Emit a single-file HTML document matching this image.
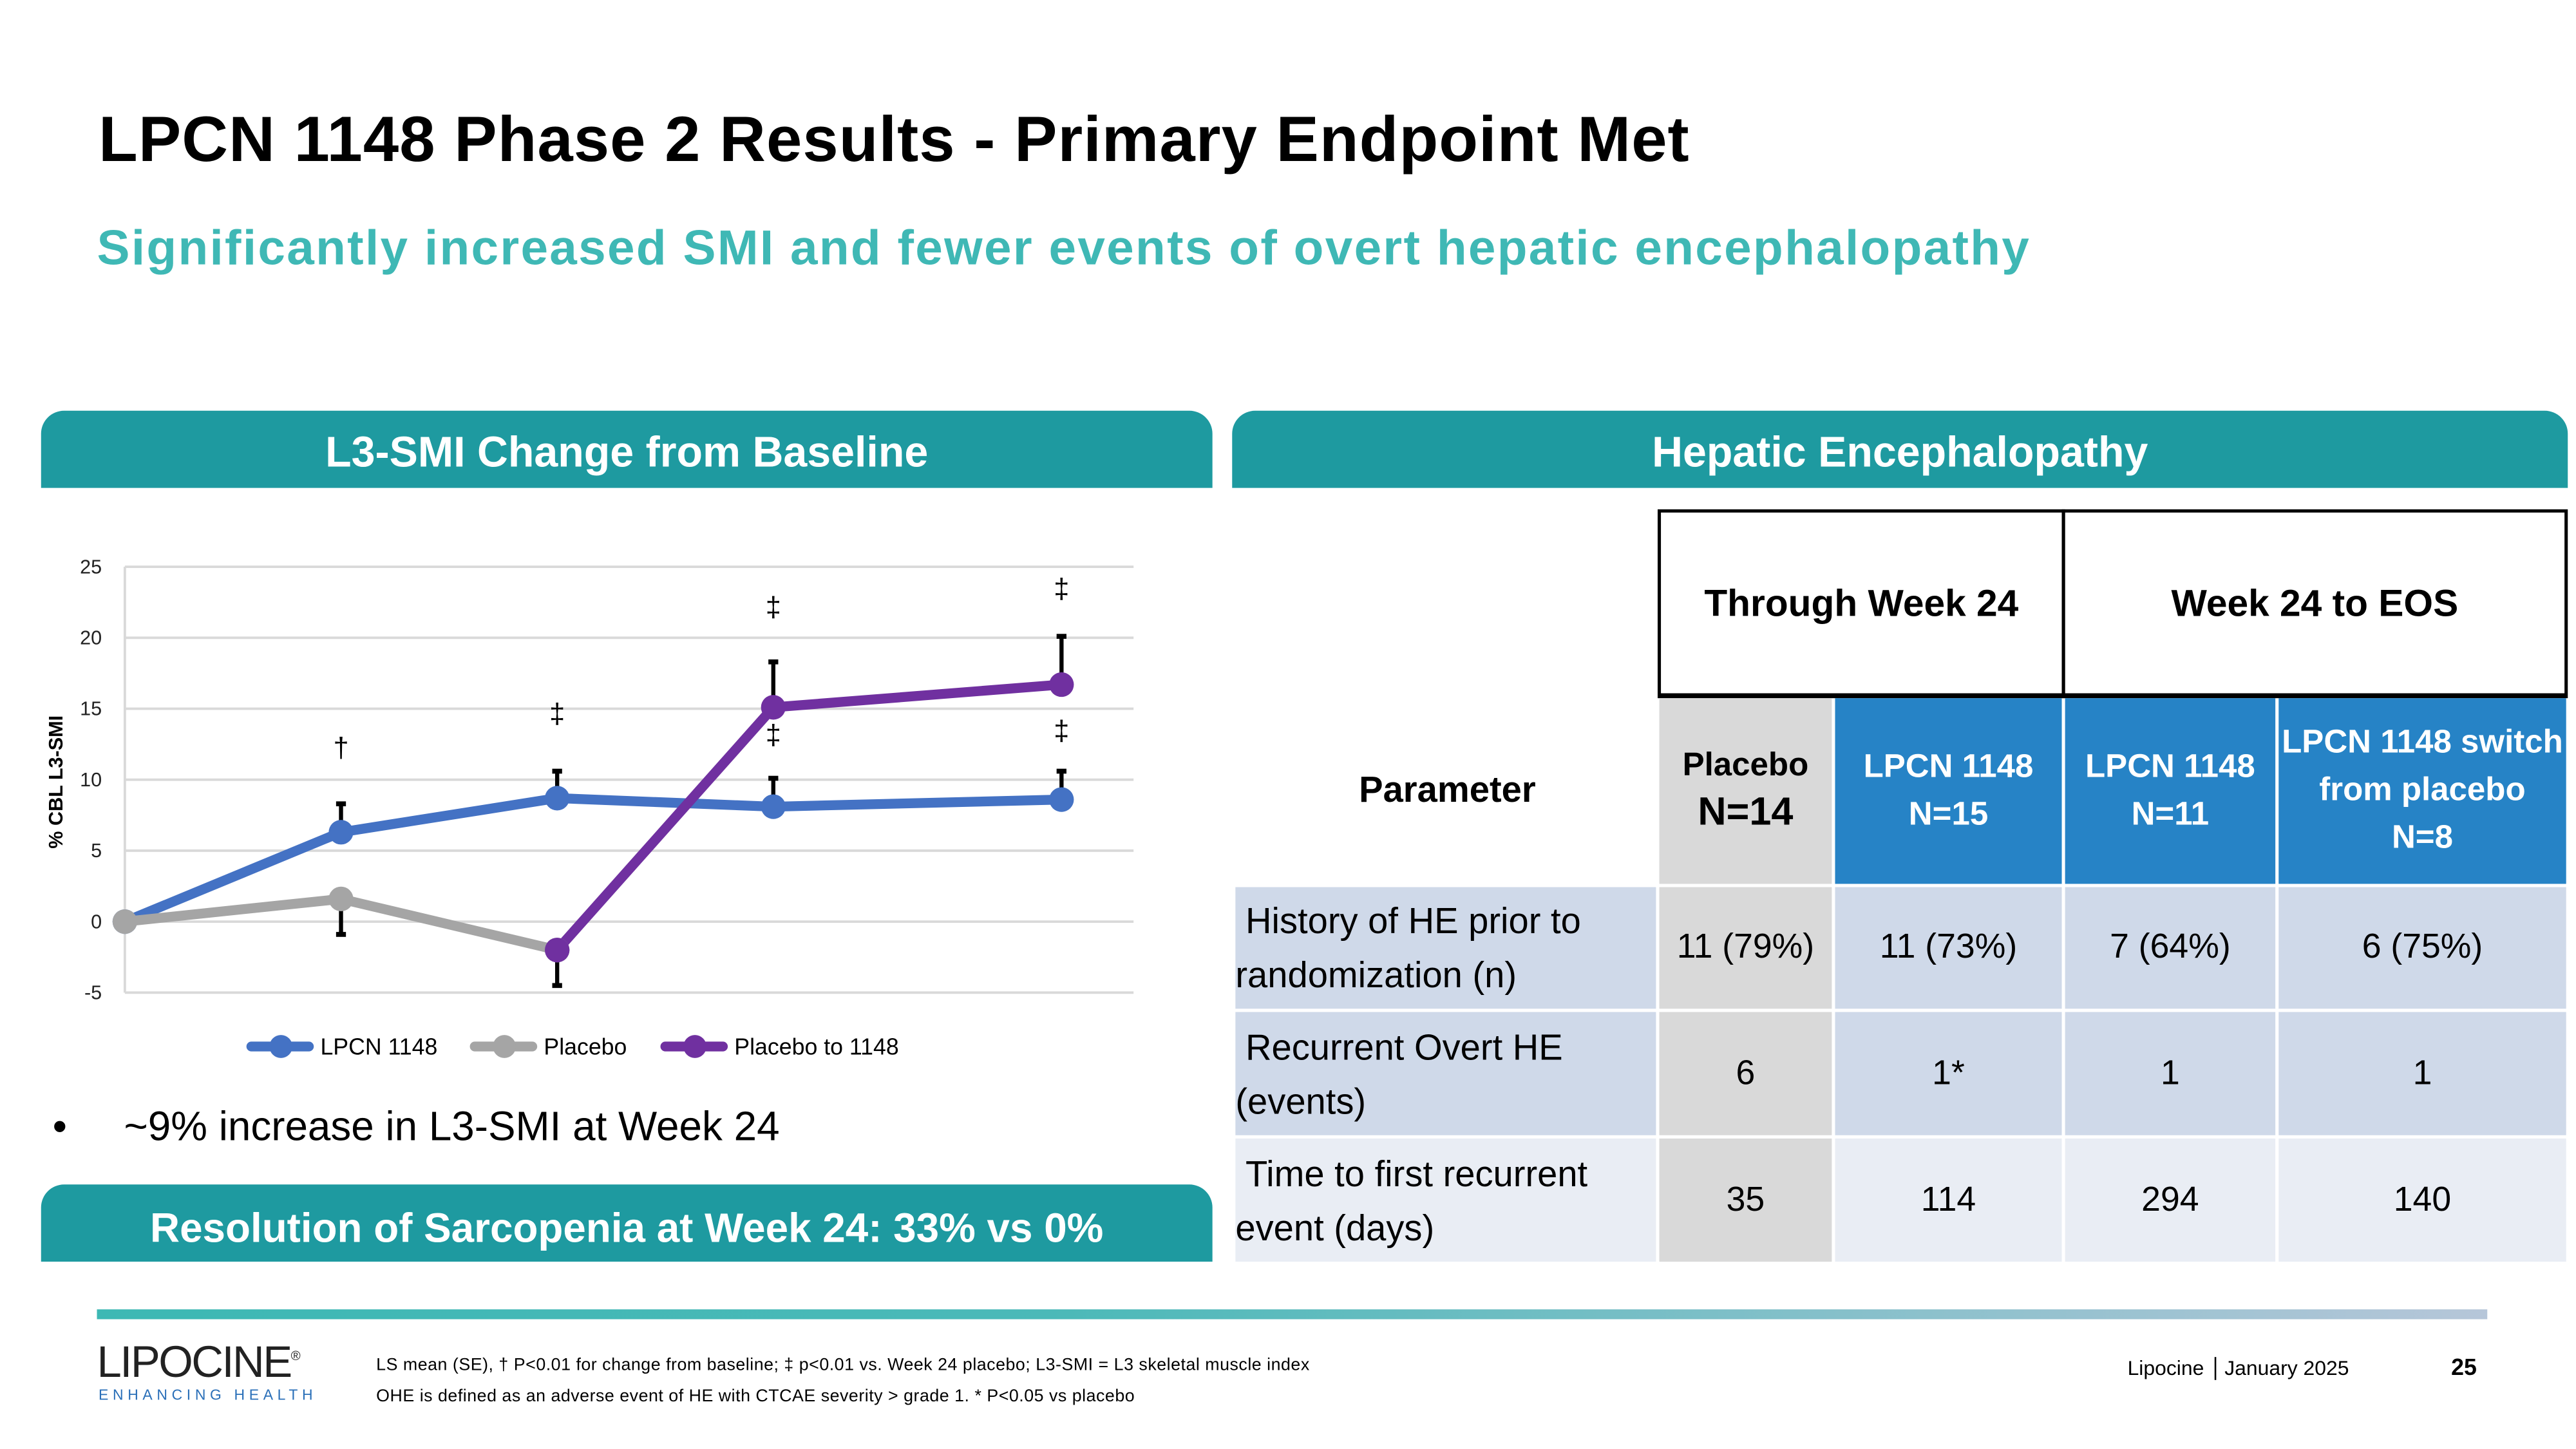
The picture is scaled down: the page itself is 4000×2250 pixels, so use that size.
<!DOCTYPE html>
<html><head><meta charset="utf-8">
<style>
html,body{margin:0;padding:0;background:#fff;overflow:hidden}
#wrap{width:4000px;height:2250px;position:relative;overflow:hidden}
#stage{width:1568px;height:882px;position:absolute;left:0;top:0;transform:scale(2.55102);transform-origin:0 0;font-family:"Liberation Sans",sans-serif}
.abs{position:absolute}
.band{background:#1e9aa0;color:#fff;font-weight:bold;font-size:26px;text-align:center;border-radius:14px 14px 0 0}
.cell{position:absolute;display:flex;flex-direction:column;align-items:center;justify-content:center;text-align:center;box-sizing:border-box;font-size:21px;line-height:1.4}
</style></head><body>
<div id="wrap"><div id="stage">
<div class="abs" style="left:60px;top:64px;font-size:39px;font-weight:bold;color:#000;letter-spacing:0.4px">LPCN 1148 Phase 2 Results - Primary Endpoint Met</div>
<div class="abs" style="left:59px;top:135px;font-size:30px;font-weight:bold;color:#3fb8b5;letter-spacing:0.9px">Significantly increased SMI and fewer events of overt hepatic encephalopathy</div>

<div class="abs band" style="left:25px;top:250px;width:713px;height:47px;line-height:50px">L3-SMI Change from Baseline</div>
<div class="abs band" style="left:750px;top:250px;width:813px;height:47px;line-height:50px">Hepatic Encephalopathy</div>

<svg class="abs" id="chart" style="left:0;top:300px" width="740" height="360"></svg>

<div class="abs" style="left:32px;top:672px;font-size:25px;color:#000">•&nbsp;&nbsp;&nbsp;&nbsp;&nbsp;~9% increase in L3-SMI at Week 24</div>
<div class="abs band" style="left:25px;top:721px;width:713px;height:47px;line-height:54px;font-size:25px">Resolution of Sarcopenia at Week 24: 33% vs 0%</div>

<div id="tbl">
<div class="cell" style="left:1009px;top:310px;width:248px;height:115px;border:2px solid #000;border-bottom-width:3px;font-weight:bold;font-size:23px">Through Week 24</div>
<div class="cell" style="left:1255px;top:310px;width:308px;height:115px;border:2px solid #000;border-bottom-width:3px;font-weight:bold;font-size:23px">Week 24 to EOS</div>
<div class="cell" style="left:752px;top:425px;width:258px;height:113px;font-weight:bold;font-size:22px">Parameter</div>
<div class="cell" style="left:1010px;top:425px;width:105px;height:113px;background:#d9d9d9;font-weight:bold;font-size:20px;line-height:1.3"><div>Placebo</div><div style="font-size:24px">N=14</div></div>
<div class="cell" style="left:1117px;top:425px;width:138px;height:113px;background:#2683c6;color:#fff;font-weight:bold;font-size:20px;line-height:1.45"><div>LPCN 1148</div><div>N=15</div></div>
<div class="cell" style="left:1257px;top:425px;width:128px;height:113px;background:#2683c6;color:#fff;font-weight:bold;font-size:20px;line-height:1.45"><div>LPCN 1148</div><div>N=11</div></div>
<div class="cell" style="left:1387px;top:425px;width:175px;height:113px;background:#2683c6;color:#fff;font-weight:bold;font-size:20px;line-height:1.45"><div>LPCN 1148 switch</div><div>from placebo</div><div>N=8</div></div>
</div>

<div class="abs" style="left:59px;top:797px;width:1455px;height:6px;background:linear-gradient(90deg,#3db8b4 0%,#4bb9b8 40%,#b6c6d9 100%)"></div>
<div class="abs" style="left:59px;top:814px;font-size:27px;letter-spacing:-1px;color:#222;font-weight:300">LIPOCINE<sup style="font-size:8px">®</sup></div>
<div class="abs" style="left:60px;top:844px;font-size:9px;letter-spacing:2.6px;color:#2a6fb8">ENHANCING HEALTH</div>
<div class="abs" style="left:229px;top:825px;font-size:10.5px;color:#000;letter-spacing:0.2px">LS mean (SE), † P&lt;0.01 for change from baseline; ‡ p&lt;0.01 vs. Week 24 placebo; L3-SMI = L3 skeletal muscle index</div>
<div class="abs" style="left:229px;top:844px;font-size:10.5px;color:#000;letter-spacing:0.2px">OHE is defined as an adverse event of HE with CTCAE severity &gt; grade 1. * P&lt;0.05 vs placebo</div>
<div class="abs" style="left:1295px;top:826px;font-size:12.5px;color:#000">Lipocine <span style="border-left:1px solid #000;margin-left:3px;padding-left:5px">January 2025</span></div>
<div class="abs" style="left:1492px;top:824px;font-size:14px;font-weight:bold;color:#000">25</div>
</div></div>

<script>
// ---- chart data ----
const weeks = [0, 6, 12, 18, 26];
const lpcnValues = [0, 6.3, 8.7, 8.1, 8.6];
const lpcnErrUp = [null, 8.3, 10.6, 10.1, 10.6];
const placeboWeeks = [0, 6, 12];
const placeboValues = [0, 1.6, -2.0];
const placeboErrDown = [null, -0.9, null];
const switchWeeks = [12, 18, 26];
const switchValues = [-2.0, 15.1, 16.7];
const switchErrUp = [null, 18.3, 20.1];
const switchErrDown = [-4.5, null, null];
const yTicks = [25, 20, 15, 10, 5, 0, -5];
const sigMarks = [["†", 6, 11.6], ["‡", 12, 14.0], ["‡", 18, 12.5], ["‡", 26, 12.8], ["‡", 18, 21.5], ["‡", 26, 22.8]];
const legendLabels = ["LPCN 1148", "Placebo", "Placebo to 1148"];

const NS = "http://www.w3.org/2000/svg";
const svg = document.getElementById("chart");
const X0 = 76, X1 = 690, XMAX = 28;
const xs = w => X0 + (X1 - X0) * w / XMAX;
const ys = v => 261 - v * 8.64;
function mk(tag, attrs, parent) {
  const e = document.createElementNS(NS, tag);
  for (const k in attrs) e.setAttribute(k, attrs[k]);
  (parent || svg).appendChild(e);
  return e;
}
yTicks.forEach(t => {
  const g = mk("line", {x1: X0, x2: X1, y1: ys(t), y2: ys(t), stroke: "#d9d9d9", "stroke-width": 1.5});
  
  
  const tx = mk("text", {x: 62, y: ys(t) + 4, "text-anchor": "end", "font-size": 12, fill: "#222"});
  tx.textContent = t;
  
  
});
const ax = mk("line", {x1: X0, x2: X0, y1: ys(25), y2: ys(-5), stroke: "#d9d9d9", "stroke-width": 1.5});


const yt = mk("text", {x: 0, y: 0, transform: "translate(38,176) rotate(-90)", "text-anchor": "middle", "font-size": 12, "font-weight": "bold", fill: "#000"});
yt.textContent = "% CBL L3-SMI";



function err(w, from, to) {
  const l = mk("line", {x1: xs(w), x2: xs(w), y1: ys(from), y2: ys(to), stroke: "#000", "stroke-width": 2.5});
  
  
  const c = mk("line", {x1: xs(w) - 3, x2: xs(w) + 3, y1: ys(to), y2: ys(to), stroke: "#000", "stroke-width": 3});
  
  
}
lpcnErrUp.forEach((e, i) => { if (e !== null) err(weeks[i], lpcnValues[i], e); });
placeboErrDown.forEach((e, i) => { if (e !== null) err(placeboWeeks[i], placeboValues[i], e); });
switchErrUp.forEach((e, i) => { if (e !== null) err(switchWeeks[i], switchValues[i], e); });
switchErrDown.forEach((e, i) => { if (e !== null) err(switchWeeks[i], switchValues[i], e); });

function series(wk, vals, color, name) {
  const p = mk("polyline", {points: wk.map((w, i) => xs(w) + "," + ys(vals[i])).join(" "), fill: "none", stroke: color, "stroke-width": 6, "stroke-linejoin": "round"});
  
  
  wk.forEach((w, i) => {
    const c = mk("circle", {cx: xs(w), cy: ys(vals[i]), r: 7.5, fill: color});
    
    
  });
}
series(weeks, lpcnValues, "#4472c4", "lpcn-1148");
series(switchWeeks, switchValues, "#7030a0", "placebo-to-1148");
series(placeboWeeks, placeboValues, "#a5a5a5", "placebo");
const ps = mk("circle", {cx: xs(switchWeeks[0]), cy: ys(switchValues[0]), r: 7.5, fill: "#7030a0"});



sigMarks.forEach(m => {
  const t = mk("text", {x: xs(m[1]), y: ys(m[2]), "text-anchor": "middle", "font-size": 17, fill: "#000"});
  t.textContent = m[0];
  
  
});

const legColors = ["#4472c4", "#a5a5a5", "#7030a0"];
const legX = [153, 289, 405];
legendLabels.forEach((lab, i) => {
  const g = mk("g", {});
  
  
  mk("line", {x1: legX[i], x2: legX[i] + 35, y1: 337, y2: 337, stroke: legColors[i], "stroke-width": 6, "stroke-linecap": "round"}, g);
  mk("circle", {cx: legX[i] + 18, cy: 337, r: 7, fill: legColors[i]}, g);
  const t = mk("text", {x: legX[i] + 42, y: 342, "font-size": 14, fill: "#000"}, g);
  t.textContent = lab;
});

// ---- table body ----
const rowLabels = ["History of HE prior to randomization (n)", "Recurrent Overt HE (events)", "Time to first recurrent event (days)"];
const rowLabelHtml = ["<div>&nbsp;History of HE prior to</div><div>randomization (n)</div>", "<div>&nbsp;Recurrent Overt HE</div><div>(events)</div>", "<div>&nbsp;Time to first recurrent</div><div>event (days)</div>"];
const rowValues = [["11 (79%)", "11 (73%)", "7 (64%)", "6 (75%)"], ["6", "1*", "1", "1"], ["35", "114", "294", "140"]];
const colL = [1010, 1117, 1257, 1387], colW = [105, 138, 128, 175];
const rowTop = [540, 616, 693], rowH = [74, 75, 75];
const tbl = document.getElementById("tbl");
rowLabels.forEach((r, i) => {
  const bg = i === 2 ? "#e9edf4" : "#cfd9e9";
  const d = document.createElement("div");
  d.className = "cell";
  
  
  d.style.cssText = `left:752px;top:${rowTop[i]}px;width:256px;height:${rowH[i]}px;background:${bg};align-items:flex-start;text-align:left;font-size:22px;line-height:1.5`;
  d.innerHTML = rowLabelHtml[i];
  tbl.appendChild(d);
  rowValues[i].forEach((v, j) => {
    const c = document.createElement("div");
    c.className = "cell";
    
    
    c.style.cssText = `left:${colL[j]}px;top:${rowTop[i]}px;width:${colW[j]}px;height:${rowH[i]}px;background:${j === 0 ? "#d9d9d9" : bg}`;
    c.textContent = v;
    tbl.appendChild(c);
  });
});
</script>
</body></html>
